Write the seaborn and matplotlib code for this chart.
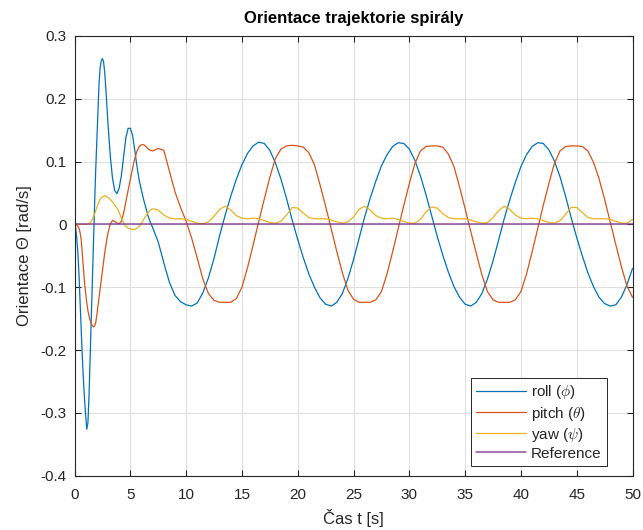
import numpy as np
import pandas as pd
import matplotlib
matplotlib.use("Agg")
import matplotlib.pyplot as plt
import seaborn as sns

# Sample times [s]: fine steps during the initial transient, coarser afterwards
t = np.round(np.concatenate([
    np.arange(0.0, 3.01, 0.1),
    np.arange(3.2, 7.01, 0.2),
    np.arange(7.5, 50.01, 0.5),
]), 2)

roll = [
    # 0.0 - 3.0 s
    0.000, -0.005, -0.022, -0.045, -0.080, -0.122, -0.168, -0.212, -0.248, -0.279,
    -0.305, -0.326, -0.316, -0.272, -0.210, -0.145, -0.087, -0.027, 0.033, 0.088,
    0.135, 0.185, 0.225, 0.250, 0.261, 0.264, 0.259, 0.243, 0.218, 0.190, 0.160,
    # 3.2 - 7.0 s
    0.110, 0.074, 0.054, 0.049, 0.058, 0.078, 0.108, 0.138, 0.153, 0.153,
    0.142, 0.118, 0.092, 0.070, 0.054, 0.039, 0.026, 0.013, 0.003, -0.005,
    # 7.5 - 50.0 s
    -0.028, -0.061, -0.092, -0.113, -0.123, -0.128, -0.130,
    -0.125, -0.109, -0.085, -0.054, -0.018, 0.015, 0.045, 0.072, 0.095,
    0.113, 0.125, 0.131, 0.129, 0.118, 0.098, 0.072, 0.041, 0.007, -0.024,
    -0.053, -0.079, -0.100, -0.117, -0.127, -0.130, -0.124, -0.110, -0.086, -0.056,
    -0.022, 0.012, 0.042, 0.069, 0.093, 0.111, 0.124, 0.130, 0.129, 0.120,
    0.102, 0.077, 0.047, 0.014, -0.019, -0.049, -0.076, -0.099, -0.116, -0.127,
    -0.130, -0.124, -0.110, -0.087, -0.058, -0.025, 0.009, 0.039, 0.067, 0.092,
    0.111, 0.124, 0.130, 0.129, 0.119, 0.101, 0.076, 0.045, 0.011, -0.021,
    -0.050, -0.077, -0.099, -0.116, -0.126, -0.130, -0.128, -0.116, -0.096, -0.070,
]

pitch = [
    # 0.0 - 3.0 s
    0.000, 0.000, -0.001, -0.003, -0.006, -0.013, -0.025, -0.047, -0.071, -0.093,
    -0.110, -0.125, -0.137, -0.146, -0.153, -0.158, -0.161, -0.163, -0.162, -0.156,
    -0.144, -0.130, -0.115, -0.101, -0.087, -0.073, -0.059, -0.046, -0.034, -0.023, -0.014,
    # 3.2 - 7.0 s
    0.001, 0.006, 0.005, 0.002, 0.001, 0.005, 0.018, 0.036, 0.054, 0.072,
    0.089, 0.105, 0.117, 0.124, 0.127, 0.127, 0.124, 0.120, 0.118, 0.117,
    # 7.5 - 50.0 s
    0.121, 0.118, 0.085, 0.052, 0.027, 0.005, -0.022,
    -0.054, -0.087, -0.110, -0.121, -0.124, -0.124, -0.124, -0.118, -0.100,
    -0.069, -0.033, 0.004, 0.040, 0.075, 0.105, 0.120, 0.125, 0.126, 0.125,
    0.123, 0.114, 0.095, 0.063, 0.029, -0.007, -0.043, -0.077, -0.105, -0.119,
    -0.124, -0.124, -0.124, -0.120, -0.107, -0.079, -0.044, -0.007, 0.030, 0.065,
    0.097, 0.117, 0.124, 0.125, 0.125, 0.123, 0.112, 0.092, 0.060, 0.025,
    -0.011, -0.046, -0.080, -0.107, -0.120, -0.124, -0.124, -0.124, -0.120, -0.107,
    -0.079, -0.044, -0.007, 0.030, 0.065, 0.097, 0.117, 0.124, 0.125, 0.125,
    0.124, 0.117, 0.099, 0.073, 0.040, 0.004, -0.032, -0.067, -0.098, -0.116,
]

yaw = [
    # 0.0 - 3.0 s
    0.000, 0.000, 0.000, 0.000, 0.000, 0.000, 0.000, 0.000, 0.000, 0.000,
    0.000, 0.000, 0.001, 0.002, 0.003, 0.005, 0.008, 0.012, 0.017, 0.022,
    0.027, 0.032, 0.036, 0.040, 0.042, 0.044, 0.045, 0.046, 0.045, 0.044, 0.043,
    # 3.2 - 7.0 s
    0.040, 0.036, 0.031, 0.026, 0.019, 0.010, 0.003, -0.003, -0.006, -0.007,
    -0.008, -0.008, -0.006, -0.003, 0.002, 0.008, 0.014, 0.019, 0.023, 0.025,
    # 7.5 - 50.0 s
    0.023, 0.015, 0.010, 0.009, 0.009, 0.008, 0.005,
    0.002, 0.001, 0.004, 0.013, 0.024, 0.029, 0.023, 0.014, 0.010,
    0.009, 0.010, 0.009, 0.006, 0.003, 0.002, 0.005, 0.015, 0.027, 0.026,
    0.018, 0.011, 0.009, 0.009, 0.009, 0.007, 0.004, 0.002, 0.004, 0.012,
    0.024, 0.029, 0.023, 0.014, 0.010, 0.009, 0.010, 0.008, 0.005, 0.002,
    0.002, 0.008, 0.020, 0.028, 0.026, 0.017, 0.011, 0.009, 0.009, 0.009,
    0.007, 0.004, 0.002, 0.003, 0.011, 0.022, 0.029, 0.024, 0.015, 0.010,
    0.009, 0.010, 0.009, 0.006, 0.003, 0.002, 0.006, 0.016, 0.027, 0.027,
    0.019, 0.011, 0.009, 0.009, 0.009, 0.008, 0.005, 0.002, 0.002, 0.008,
]

t_ref = [0.0, 50.0]
reference = [0.0, 0.0]

labels = [r"roll ($\phi$)", r"pitch ($\theta$)", r"yaw ($\psi$)", "Reference"]
colors = ["#0072BD", "#D95319", "#EDB120", "#7E2F8E"]

x_ticks = list(range(0, 51, 5))
y_ticks = [-0.4, -0.3, -0.2, -0.1, 0.0, 0.1, 0.2, 0.3]
y_ticklabels = ["-0.4", "-0.3", "-0.2", "-0.1", "0", "0.1", "0.2", "0.3"]

assert len(t) == len(roll) == len(pitch) == len(yaw)

sns.set_theme(style="white")
plt.rcParams["font.family"] = ["Liberation Sans", "DejaVu Sans"]
plt.rcParams["mathtext.fontset"] = "cm"
plt.rcParams["axes.unicode_minus"] = False

ink = "#262626"

fig = plt.figure(figsize=(6.43, 5.30), dpi=100)
ax = fig.add_axes([0.1159, 0.1025, 0.8678, 0.8296])

df = pd.DataFrame({"t": t, "roll": roll, "pitch": pitch, "yaw": yaw})
for col, lab, c in zip(["roll", "pitch", "yaw"], labels[:3], colors[:3]):
    sns.lineplot(data=df, x="t", y=col, ax=ax, color=c, linewidth=0.9,
                 label=lab, estimator=None, sort=False)
sns.lineplot(x=t_ref, y=reference, ax=ax, color=colors[3], linewidth=1.1,
             alpha=0.85, label=labels[3], estimator=None)

ax.set_xlim(0, 50)
ax.set_ylim(-0.4, 0.3)
ax.set_xticks(x_ticks)
ax.set_xticklabels([str(v) for v in x_ticks])
ax.set_yticks(y_ticks)
ax.set_yticklabels(y_ticklabels)

ax.grid(True, color="#dfdfdf", linewidth=0.8)
ax.set_axisbelow(True)
for s in ax.spines.values():
    s.set_visible(True)
    s.set_color(ink)
    s.set_linewidth(0.8)

ax.tick_params(axis="both", direction="in", length=4, width=0.8, colors=ink,
               labelsize=11, top=True, right=True, bottom=True, left=True)
ax.tick_params(axis="x", pad=9)
ax.tick_params(axis="y", pad=5.5)

ax.set_title("Orientace trajektorie spirály", fontsize=12, fontweight="bold",
             color="black", pad=9)
ax.set_xlabel("Čas t [s]", fontsize=12, color=ink, labelpad=5)
ax.set_ylabel("Orientace Θ [rad/s]", fontsize=12, color=ink, labelpad=6)

leg = ax.legend(loc="lower right", bbox_to_anchor=(0.954, 0.022),
                borderaxespad=0, fontsize=11, frameon=True, fancybox=False,
                framealpha=1, edgecolor=ink, handlelength=3.3,
                handletextpad=0.3, labelspacing=0.2, borderpad=0.35)
leg.get_frame().set_linewidth(0.7)

fig.savefig("out.png", dpi=100)
